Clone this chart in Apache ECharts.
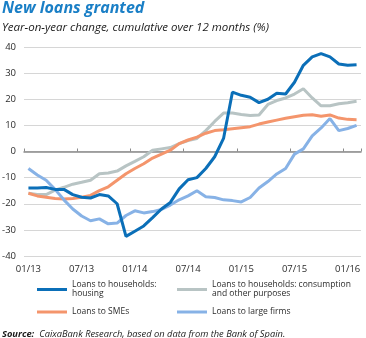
<!DOCTYPE html>
<html>
<head>
<meta charset="utf-8">
<script src="https://cdn.jsdelivr.net/npm/echarts@6/dist/echarts.min.js"></script>
<style>
  html, body { margin: 0; padding: 0; background: #fff; }
  #chart { width: 366px; height: 338px; }
</style>
</head>
<body>
<div id="chart"></div>
<script>
// Monthly categories, Jan 2013 – Feb 2016
const months = [
  '01/13','02/13','03/13','04/13','05/13','06/13','07/13','08/13','09/13','10/13','11/13','12/13',
  '01/14','02/14','03/14','04/14','05/14','06/14','07/14','08/14','09/14','10/14','11/14','12/14',
  '01/15','02/15','03/15','04/15','05/15','06/15','07/15','08/15','09/15','10/15','11/15','12/15',
  '01/16','02/16'
];

// Year-on-year change, cumulative over 12 months (%)
const housing = [
  -14, -14, -13.8, -14.5, -14.5, -16.5, -17.5, -17.8, -16.5, -17, -20, -32.5,
  -30.5, -28.5, -25.3, -22, -19.5, -14.3, -10.8, -10, -6.5, -2, 5, 22.7,
  21.5, 20.8, 18.7, 20, 22.3, 22, 26.5, 33, 36.2, 37.5, 36.2, 33.5,
  33, 33.2
];
const consumption = [
  -16, -16.5, -16.5, -14.8, -13.7, -12.5, -11.8, -11, -8.5, -8.2, -7.5, -5.5,
  -3.8, -2, 0.5, 1, 1.5, 3, 4.2, 5, 8, 11.5, 14.7, 14.7,
  14.2, 13.8, 14, 18, 19.5, 20.5, 22, 24, 20.5, 17.5, 17.5, 18.3,
  18.7, 19.2
];
const smes = [
  -16, -17, -17.5, -18, -18.2, -18, -17.5, -16.8, -15, -13.5, -11, -8.5,
  -6.5, -4.7, -2.5, -1, 0.5, 3, 4.4, 5.5, 7, 8, 8.3, 8.7,
  9.1, 9.5, 10.5, 11.3, 12, 12.7, 13.3, 13.9, 14.1, 13.5, 14, 12.8,
  12.3, 12.2
];
const largeFirms = [
  -6.5, -9, -11, -14.5, -18.5, -22, -24.7, -26.5, -25.8, -27.7, -27.4, -24.5,
  -22.7, -23.5, -23, -22.2, -20.5, -18.5, -17, -15, -17.3, -17.6, -18.5, -18.8,
  -19.3, -17.6, -14, -11.5, -8.6, -6.5, -1, 1, 6, 9, 12.6, 8,
  8.8, 10
];

const names = {
  housing: 'Loans to households:\nhousing',
  consumption: 'Loans to households: consumption\nand other purposes',
  smes: 'Loans to SMEs',
  large: 'Loans to large firms'
};
const colors = {
  housing: '#0b6fb8',
  consumption: '#b8c4c4',
  smes: '#f4956c',
  large: '#87b2e6'
};

const FONT = '"Open Sans", "Noto Sans", sans-serif';
const textDark = '#2b2b2b';

const legendBase = {
  orient: 'vertical',
  padding: 0,
  icon: 'rect',
  itemWidth: 30,
  itemHeight: 3,
  itemGap: 5,
  selectedMode: false,
  textStyle: { fontFamily: FONT, fontSize: 8.5, color: textDark, lineHeight: 9 }
};
function legendAt(name, left, top, twoLines) {
  const l = Object.assign({}, legendBase, { data: [name], left: left, top: top });
  l.textStyle = Object.assign({}, legendBase.textStyle);
  if (twoLines) l.textStyle.padding = [9, 0, 0, 0];
  return l;
}

const chart = echarts.init(document.getElementById('chart'), null, { renderer: 'canvas' });
chart.setOption({
  animation: false,
  backgroundColor: '#ffffff',
  title: [
    {
      text: 'New loans granted',
      left: 2, top: 0, padding: 0,
      textStyle: { fontFamily: FONT, fontSize: 16, fontWeight: 'bold', fontStyle: 'italic', color: '#1a7fc6' }
    },
    {
      text: 'Year-on-year change, cumulative over 12 months (%)',
      left: 2, top: 22, padding: 0,
      textStyle: { fontFamily: FONT, fontSize: 11.5, fontWeight: 'normal', fontStyle: 'italic', color: '#1a1a1a' }
    },
    {
      text: '{b|Source:} {n|CaixaBank Research, based on data from the Bank of Spain.}',
      left: 2, top: 325, padding: 0,
      textStyle: {
        fontWeight: 'normal',
        rich: {
          b: { fontFamily: FONT, fontSize: 9.3, fontWeight: 'bold', fontStyle: 'italic', color: '#1a1a1a' },
          n: { fontFamily: FONT, fontSize: 9.3, fontWeight: 'normal', fontStyle: 'italic', color: '#1a1a1a' }
        }
      }
    }
  ],
  legend: [
    legendAt(names.housing, 37, 276, true),
    legendAt(names.consumption, 177, 276, true),
    legendAt(names.smes, 37, 307.5, false),
    legendAt(names.large, 177, 307.5, false)
  ],
  grid: { left: 24, right: 5, top: 47, bottom: 82, containLabel: false, outerBoundsMode: 'none' },
  xAxis: [
    {
      type: 'category',
      data: months,
      boundaryGap: true,
      position: 'bottom',
      axisLine: { show: false, onZero: false },
      axisTick: { show: false },
      axisLabel: { interval: 5, margin: 8, fontFamily: FONT, fontSize: 9.5, color: textDark },
      splitLine: { show: false }
    },
    {
      type: 'category',
      data: months,
      boundaryGap: true,
      position: 'top',
      axisLine: { show: true, onZero: true, lineStyle: { color: '#8a8a8a', width: 1.5 } },
      axisTick: { show: true, interval: 5, length: 3, lineStyle: { color: '#8a8a8a', width: 1 } },
      axisLabel: { show: false },
      splitLine: { show: false }
    }
  ],
  yAxis: {
    type: 'value',
    min: -40, max: 40, interval: 10,
    axisLine: { show: false },
    axisTick: { show: false },
    axisLabel: { margin: 8, fontFamily: FONT, fontSize: 9.5, color: textDark },
    splitLine: { lineStyle: { color: '#d6d6d6', width: 1 } }
  },
  series: [
    { name: names.consumption, type: 'line', data: consumption, color: colors.consumption },
    { name: names.smes, type: 'line', data: smes, color: colors.smes },
    { name: names.large, type: 'line', data: largeFirms, color: colors.large },
    { name: names.housing, type: 'line', data: housing, color: colors.housing }
  ].map(s => Object.assign(s, {
    symbol: 'none',
    lineStyle: { width: 3, color: s.color },
    itemStyle: { color: s.color },
    emphasis: { disabled: true }
  }))
});
</script>
</body>
</html>
